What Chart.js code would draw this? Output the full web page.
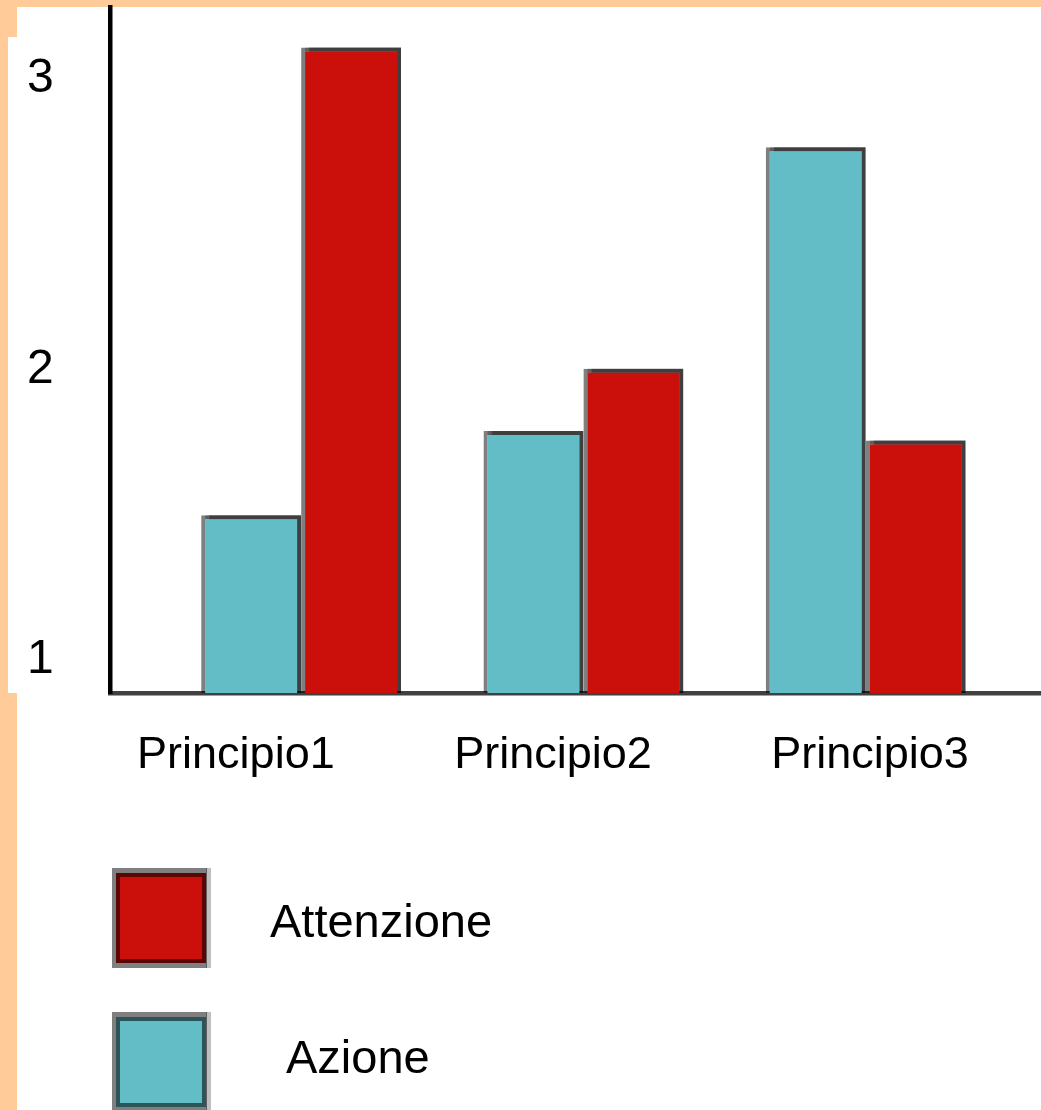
<!DOCTYPE html>
<html><head><meta charset="utf-8">
<script src="https://cdn.jsdelivr.net/npm/chart.js@4.4.1/dist/chart.umd.min.js"></script>
<style>
html,body{margin:0;padding:0;background:#FFCC99;width:1041px;height:1110px;overflow:hidden;}
#wmain{position:absolute;left:17px;top:7px;right:0;bottom:0;background:#fff;}
#wlab{position:absolute;left:8px;top:37px;width:20px;height:656px;background:#fff;}
#c{position:absolute;left:0;top:0;}
</style></head><body>
<div id="wmain"></div><div id="wlab"></div>
<canvas id="c" width="1041" height="1110"></canvas>
<script>
const categories = ['Principio1', 'Principio2', 'Principio3'];
const seriesNames = ['Azione', 'Attenzione'];
const azione = [1.57, 1.84, 2.75];
const attenzione = [3.07, 2.04, 1.81];
const yTickValues = [1, 2, 3];

const FONT = '"Liberation Sans", Arial, sans-serif';
const legendLayout = { boxX: 116, boxY: [873, 1017], box: 90, textX: [270, 286], textY: [937, 1073] };

const shadowPlugin = {
  id: 'barShadow',
  beforeDatasetsDraw(chart) {
    const c = chart.ctx;
    c.save();
    c.shadowColor = 'rgba(0,0,0,0.5)';
    c.shadowOffsetX = 4;
    c.shadowOffsetY = -5;
    c.shadowBlur = 0;
  },
  afterDatasetsDraw(chart) { chart.ctx.restore(); }
};

const legendPlugin = {
  id: 'boxLegend',
  afterDraw(chart) {
    const ctx = chart.ctx;
    const L = legendLayout;
    const ds = chart.data.datasets.slice().reverse();
    ds.forEach((d, i) => {
      const x = L.boxX, y = L.boxY[i], s = L.box;
      ctx.save();
      ctx.fillStyle = 'rgba(0,0,0,0.5)';
      ctx.fillRect(x - 4, y - 5, s + 5, s + 10);
      ctx.fillStyle = 'rgba(0,0,0,0.25)';
      ctx.fillRect(x + s, y - 5, 5, s + 10);
      ctx.fillStyle = d.backgroundColor;
      ctx.fillRect(x, y, s, s);
      ctx.strokeStyle = 'rgba(0,0,0,0.55)';
      ctx.lineWidth = 4;
      ctx.strokeRect(x + 2, y + 2, s - 4, s - 4);
      ctx.fillStyle = '#000';
      ctx.font = '47px ' + FONT;
      ctx.textBaseline = 'alphabetic';
      ctx.textAlign = 'left';
      ctx.fillText(d.label, L.textX[i], L.textY[i]);
      ctx.restore();
    });
  }
};

function zeroPad(a) { a.paddingLeft = 0; a.paddingRight = 0; a.paddingTop = 0; a.paddingBottom = 0; }

new Chart(document.getElementById('c'), {
  type: 'bar',
  data: {
    datasets: [
      { label: seriesNames[0], data: azione.map((v, i) => ({ x: i, y: v })),
        backgroundColor: '#63BDC6', borderColor: 'rgba(0,0,0,0.5)', borderWidth: 4, borderSkipped: false,
        xAxisID: 'x', yAxisID: 'y' },
      { label: seriesNames[1], data: attenzione.map((v, i) => ({ x: i, y: v })),
        backgroundColor: '#CB0F0A', borderColor: 'rgba(0,0,0,0.5)', borderWidth: 4, borderSkipped: false,
        xAxisID: 'x', yAxisID: 'y' }
    ]
  },
  options: {
    responsive: false,
    animation: false,
    devicePixelRatio: 1,
    layout: { padding: { left: 27, top: 7, right: 0, bottom: 317 } },
    plugins: { legend: { display: false }, tooltip: { enabled: false } },
    datasets: { bar: { categoryPercentage: 0.708, barPercentage: 1 } },
    scales: {
      x: { type: 'linear', display: false, offset: false, min: -0.677, max: 2.621,
           afterBuildTicks(a) { a.ticks = categories.map((c, i) => ({ value: i })); },
           afterFit: zeroPad },
      y: { type: 'linear', display: false, min: 1, max: 3.2, afterFit: zeroPad },
      xl: { type: 'linear', position: 'bottom', offset: false, min: -0.397, max: 2.539, z: 1,
            afterBuildTicks(a) { a.ticks = categories.map((c, i) => ({ value: i })); },
            afterFit(a) { a.height = 100; zeroPad(a); },
            grid: { display: false, drawTicks: false },
            border: { display: true, color: '#404040', width: 4.5 },
            ticks: { padding: 36, autoSkip: false, maxRotation: 0, color: '#000',
                     font: { family: FONT, size: 45 }, callback: (v) => categories[v] } },
      yl: { type: 'linear', position: 'left', min: 0.886, max: 3.247,
            afterBuildTicks(a) { a.ticks = yTickValues.map(v => ({ value: v })); },
            afterFit(a) { a.width = 83; zeroPad(a); },
            grid: { display: false, drawTicks: false },
            border: { display: true, color: '#000', width: 4.5 },
            ticks: { padding: 3, crossAlign: 'far', color: '#000', font: { family: FONT, size: 48 },
                     callback: (v) => String(v) } }
    }
  },
  plugins: [shadowPlugin, legendPlugin]
});
</script>
</body></html>
